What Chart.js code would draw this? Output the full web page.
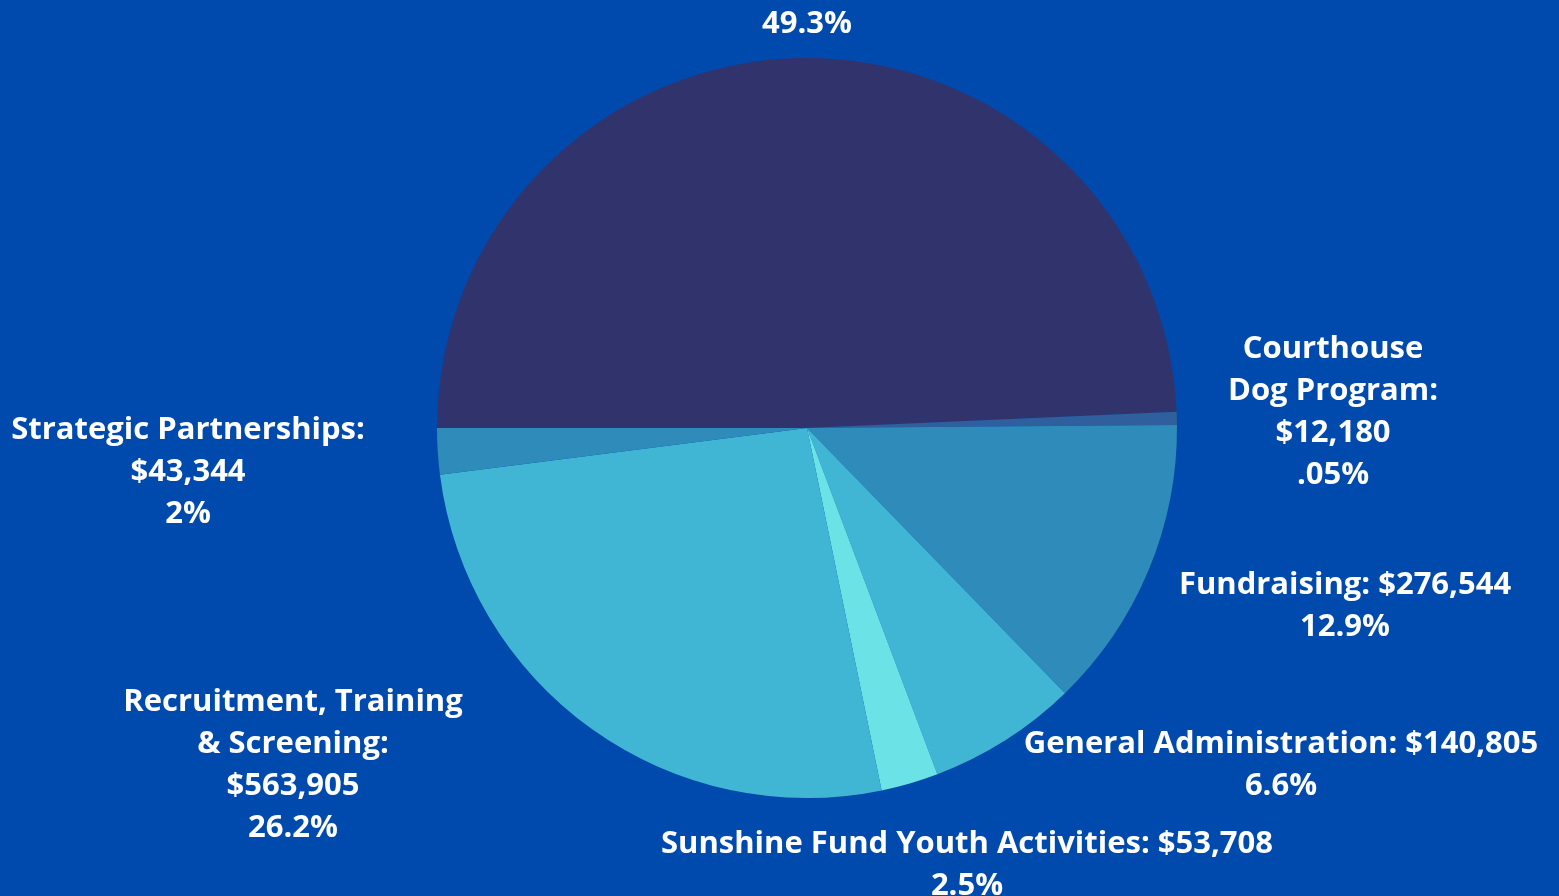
<!DOCTYPE html>
<html>
<head>
<meta charset="utf-8">
<script src="https://cdn.jsdelivr.net/npm/chart.js@4.4.0/dist/chart.umd.min.js"></script>
<style>
  html, body { margin: 0; padding: 0; background: #004aad; }
  #wrap { width: 1559px; height: 896px; position: relative; }
</style>
</head>
<body>
<div id="wrap"><canvas id="pie" width="1559" height="896"></canvas></div>
<script>
// slices, clockwise from 9 o'clock
const categories = [
  "Program Services",
  "Courthouse Dog Program",
  "Fundraising",
  "General Administration",
  "Sunshine Fund Youth Activities",
  "Recruitment, Training & Screening",
  "Strategic Partnerships"
];
const amounts = [1060374, 12180, 276544, 140805, 53708, 563905, 43344];
const sliceColors = ["#31346c", "#2f5f9c", "#2e8bba", "#41b6d4", "#6be3e6", "#41b6d4", "#2e8bba"];

// label text as printed on the chart
const labelLines = [
  ["Program Services: $1,060,374", "49.3%"],
  ["Courthouse", "Dog Program:", "$12,180", ".05%"],
  ["Fundraising: $276,544", "12.9%"],
  ["General Administration: $140,805", "6.6%"],
  ["Sunshine Fund Youth Activities: $53,708", "2.5%"],
  ["Recruitment, Training", "& Screening:", "$563,905", "26.2%"],
  ["Strategic Partnerships:", "$43,344", "2%"]
];
// where each label block sits (center x, middle of first line)
const labelPos = [
  [807, -18], [1333, 349], [1345, 585], [1281, 744],
  [967, 844], [293, 702], [188, 430]
];

const labelPlugin = {
  id: "sliceLabels",
  afterDraw(chart) {
    const ctx = chart.ctx;
    ctx.save();
    ctx.fillStyle = "#ffffff";
    ctx.font = "bold 31px 'Open Sans'";
    ctx.textAlign = "center";
    ctx.textBaseline = "middle";
    labelLines.forEach((lines, i) => {
      const [x, y] = labelPos[i];
      lines.forEach((t, j) => ctx.fillText(t, x, y + j * 42));
    });
    ctx.restore();
  }
};

new Chart(document.getElementById("pie"), {
  type: "pie",
  data: {
    labels: categories,
    datasets: [{
      data: amounts,
      backgroundColor: sliceColors,
      borderWidth: 0
    }]
  },
  options: {
    responsive: false,
    animation: false,
    rotation: -90,
    layout: { padding: { left: 437, right: 382, top: 58, bottom: 98 } },
    plugins: {
      legend: { display: false },
      tooltip: { enabled: false }
    }
  },
  plugins: [labelPlugin]
});
</script>
</body>
</html>
